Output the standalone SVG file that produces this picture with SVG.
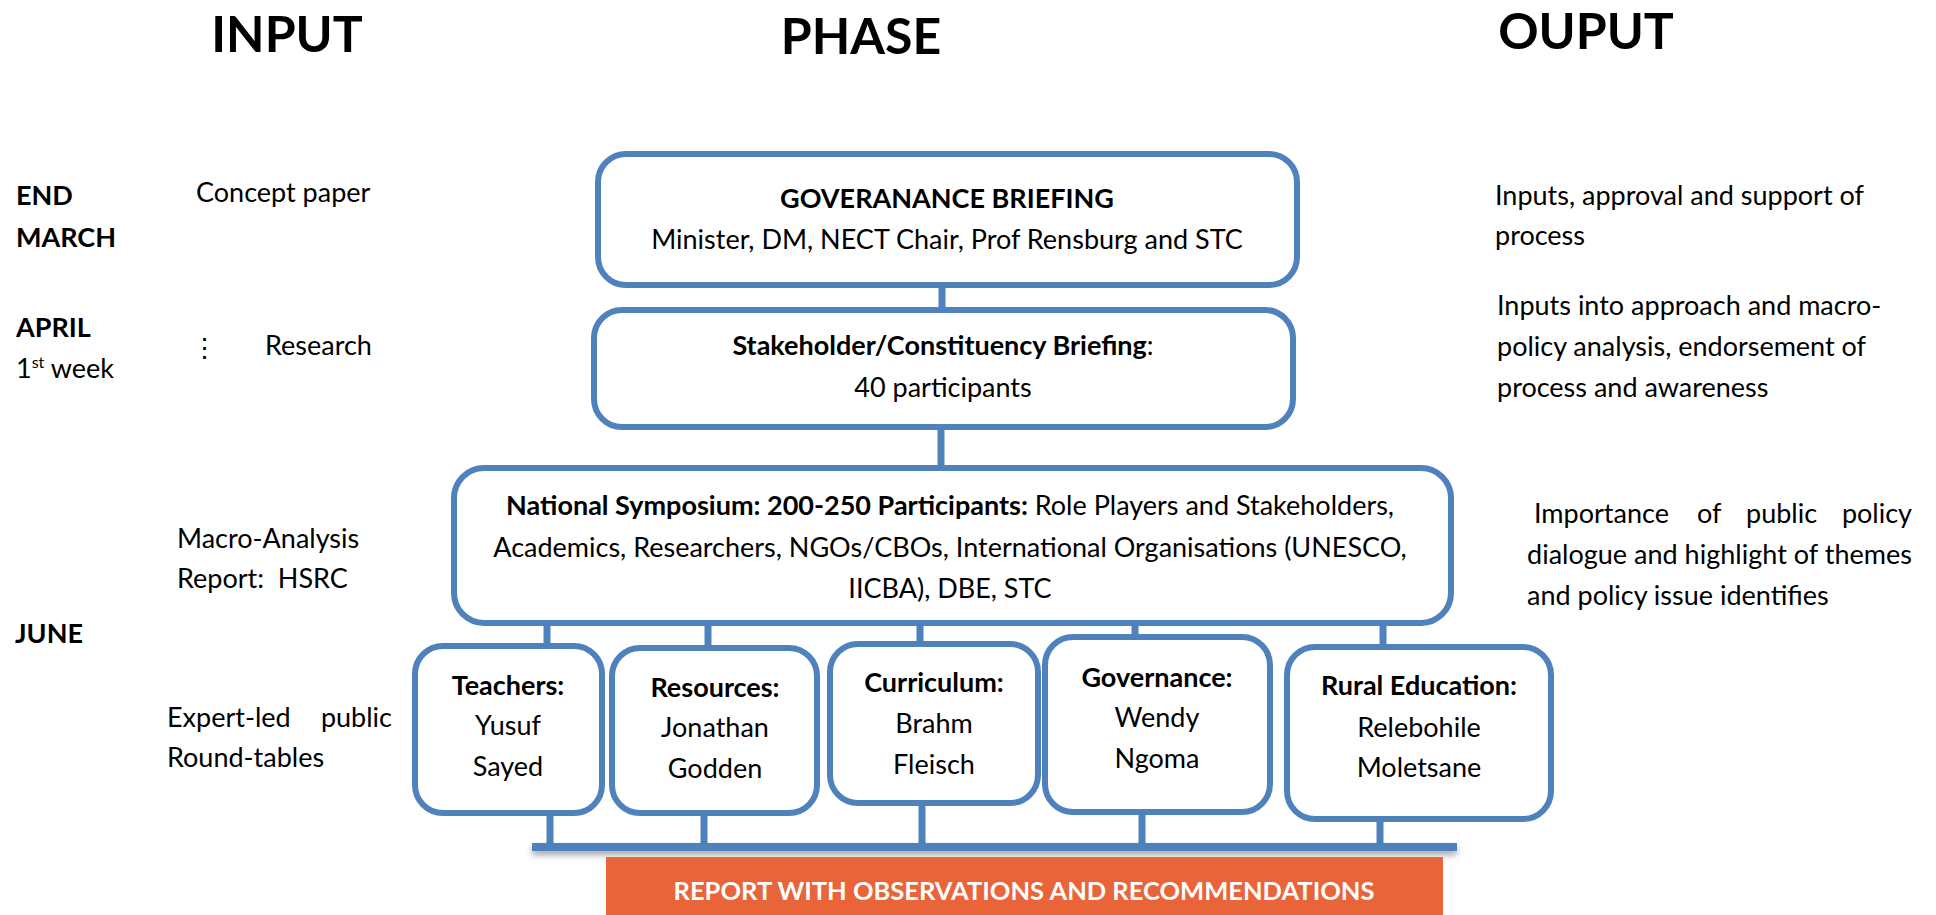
<svg xmlns="http://www.w3.org/2000/svg" width="1936" height="915" viewBox="0 0 1936 915">
  <defs>
    <style>
      text { font-family: Lato, "Open Sans", "Liberation Sans", sans-serif; font-size: 27px; fill: #000; }
      .hdr { font-size: 50px; font-weight: bold; }
      .b { font-weight: bold; }
      .c { text-anchor: middle; }
      .box { fill: #fff; stroke: #4F81BD; stroke-width: 6; }
      .link { stroke: #4F81BD; stroke-width: 7; fill: none; }
      .report { fill: #fff; font-weight: bold; font-size: 25.5px; }
    </style>
    <filter id="shadow" x="-5%" y="-100%" width="110%" height="400%">
      <feDropShadow dx="0" dy="4" stdDeviation="3" flood-color="#000" flood-opacity="0.35"/>
    </filter>
  </defs>
  <rect width="1936" height="915" fill="#fff"/>

  <!-- column headings -->
  <g id="headings">
    <text class="hdr c" x="287" y="52">INPUT</text>
    <text class="hdr c" x="861" y="54">PHASE</text>
    <text class="hdr c" x="1586" y="49">OUPUT</text>
  </g>

  <!-- timeline and inputs -->
  <g id="timeline">
    <text class="b" x="16" y="205">END</text>
    <text class="b" x="16" y="247">MARCH</text>
    <text class="b" x="16" y="337">APRIL</text>
    <text x="16" y="378">1<tspan font-size="16" dy="-10">st</tspan><tspan dy="10"> week</tspan></text>
    <text class="b" x="15" y="643">JUNE</text>
  </g>
  <g id="inputs">
    <text x="196" y="202">Concept paper</text>
    <text x="191" y="357" font-size="18">⋮</text>
    <text x="265" y="355">Research</text>
    <text x="177" y="548">Macro-Analysis</text>
    <text x="177" y="588" xml:space="preserve">Report:  HSRC</text>
    <text x="167" y="727">Expert-led</text>
    <text x="392" y="727" text-anchor="end">public</text>
    <text x="167" y="767">Round-tables</text>
  </g>

  <!-- outputs -->
  <g id="outputs">
    <text x="1495" y="205">Inputs, approval and support of</text>
    <text x="1495" y="245">process</text>
    <text x="1497" y="315">Inputs into approach and macro-</text>
    <text x="1497" y="356">policy analysis, endorsement of</text>
    <text x="1497" y="397">process and awareness</text>
    <text y="523"><tspan x="1534">Importance</tspan><tspan x="1697">of</tspan><tspan x="1746">public</tspan><tspan x="1912" text-anchor="end">policy</tspan></text>
    <text x="1527" y="564" textLength="385" lengthAdjust="spacing">dialogue and highlight of themes</text>
    <text x="1527" y="605">and policy issue identifies</text>
  </g>

  <!-- connectors -->
  <g id="connectors">
    <line class="link" x1="942" y1="285" x2="942" y2="310"/>
    <line class="link" x1="941" y1="427" x2="941" y2="468"/>
    <line class="link" x1="547" y1="623" x2="547" y2="646"/>
    <line class="link" x1="708" y1="623" x2="708" y2="648"/>
    <line class="link" x1="920" y1="623" x2="920" y2="644"/>
    <line class="link" x1="1135" y1="623" x2="1135" y2="637"/>
    <line class="link" x1="1383" y1="623" x2="1383" y2="647"/>
    <line class="link" x1="550" y1="813" x2="550" y2="846"/>
    <line class="link" x1="704" y1="813" x2="704" y2="846"/>
    <line class="link" x1="922" y1="803" x2="922" y2="846"/>
    <line class="link" x1="1142" y1="812" x2="1142" y2="846"/>
    <line class="link" x1="1380" y1="819" x2="1380" y2="846"/>
    <rect x="532" y="843" width="925" height="8" fill="#4F81BD" filter="url(#shadow)"/>
  </g>

  <!-- phase boxes -->
  <g id="governance-briefing">
    <rect class="box" x="598" y="154" width="699" height="131" rx="28"/>
    <text class="b c" x="947" y="208">GOVERANANCE BRIEFING</text>
    <text class="c" x="947" y="249">Minister, DM, NECT Chair, Prof Rensburg and STC</text>
  </g>
  <g id="stakeholder-briefing">
    <rect class="box" x="594" y="310" width="699" height="117" rx="28"/>
    <text class="c" x="943" y="355"><tspan class="b">Stakeholder/Constituency Briefing</tspan>:</text>
    <text class="c" x="943" y="397">40 participants</text>
  </g>
  <g id="national-symposium">
    <rect class="box" x="454" y="468" width="997" height="155" rx="30"/>
    <text class="c" x="950" y="515"><tspan class="b">National Symposium: 200-250 Participants:</tspan> Role Players and Stakeholders,</text>
    <text class="c" x="950" y="557">Academics, Researchers, NGOs/CBOs, International Organisations (UNESCO,</text>
    <text class="c" x="950" y="598">IICBA), DBE, STC</text>
  </g>

  <!-- round-tables -->
  <g id="teachers">
    <rect class="box" x="415" y="646" width="187" height="167" rx="28"/>
    <text class="b c" x="508" y="695">Teachers:</text>
    <text class="c" x="508" y="735">Yusuf</text>
    <text class="c" x="508" y="776">Sayed</text>
  </g>
  <g id="resources">
    <rect class="box" x="612" y="648" width="205" height="165" rx="28"/>
    <text class="b c" x="715" y="697">Resources:</text>
    <text class="c" x="715" y="737">Jonathan</text>
    <text class="c" x="715" y="778">Godden</text>
  </g>
  <g id="curriculum">
    <rect class="box" x="830" y="644" width="208" height="159" rx="28"/>
    <text class="b c" x="934" y="692">Curriculum:</text>
    <text class="c" x="934" y="733">Brahm</text>
    <text class="c" x="934" y="774">Fleisch</text>
  </g>
  <g id="governance">
    <rect class="box" x="1045" y="637" width="225" height="175" rx="28"/>
    <text class="b c" x="1157" y="687">Governance:</text>
    <text class="c" x="1157" y="727">Wendy</text>
    <text class="c" x="1157" y="768">Ngoma</text>
  </g>
  <g id="rural-education">
    <rect class="box" x="1287" y="647" width="264" height="172" rx="28"/>
    <text class="b c" x="1419" y="695">Rural Education:</text>
    <text class="c" x="1419" y="737">Relebohile</text>
    <text class="c" x="1419" y="777">Moletsane</text>
  </g>

  <!-- final report -->
  <g id="report">
    <rect x="606" y="857" width="837" height="70" fill="#EA6439"/>
    <text class="report c" x="1024" y="900">REPORT WITH OBSERVATIONS AND RECOMMENDATIONS</text>
  </g>
</svg>
